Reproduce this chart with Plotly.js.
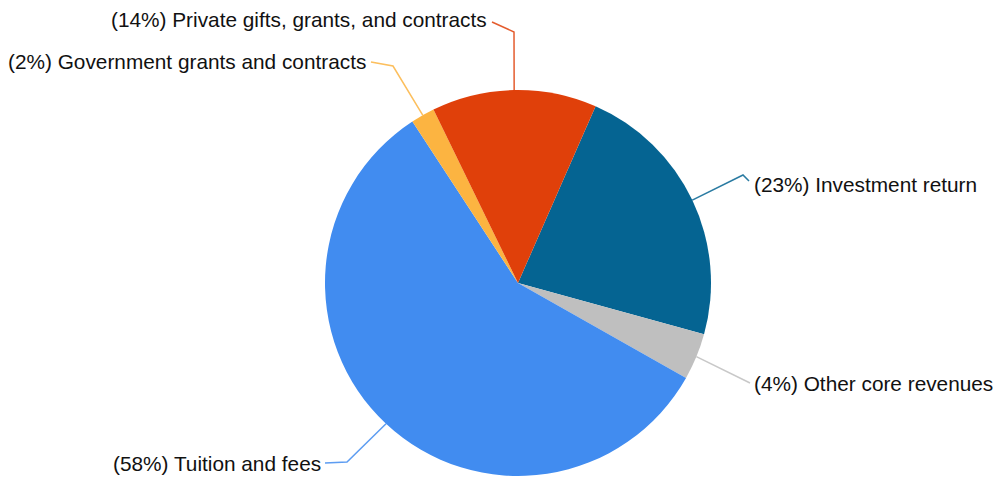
<!DOCTYPE html>
<html>
<head>
<meta charset="utf-8">
<script src="https://cdn.plot.ly/plotly-3.0.1.min.js"></script>
<style>
  html, body { margin: 0; padding: 0; background: #ffffff; }
  #chart { width: 995px; height: 480px; }
</style>
</head>
<body>
<div id="chart"></div>
<script>
// ---- data ----
const categories = ["Investment return", "Other core revenues", "Tuition and fees", "Government grants and contracts", "Private gifts, grants, and contracts"];
const values = [22.7, 3.9, 57.6, 2.0, 13.8];
const colors = ["#056492", "#BFBFBF", "#418CF0", "#FCB441", "#E0400A"];

// ---- layout constants (pixels) ----
const W = 995, H = 480;
const cx = 518, cy = 283, R = 193;
const rotationDeg = 23.7;
// label layout: elbow point, text anchor point, alignment
const labelLayout = [
  { elbow: [743, 175], end: [749, 181], text: [752, 184], align: "left" },
  { elbow: [748, 382], end: [750, 383], text: [752, 383], align: "left" },
  { elbow: [347, 462], end: [325, 463], text: [323, 463], align: "right" },
  { elbow: [393, 66],  end: [371, 62],  text: [368, 61],  align: "right" },
  { elbow: [514, 32],  end: [492, 22],  text: [489, 20],  align: "right" }
];

const px = x => x / W;
const py = y => 1 - y / H;

const total = values.reduce((a, b) => a + b, 0);
let start = rotationDeg;
const shapes = [];
const annotations = [];
values.forEach((v, i) => {
  const span = v / total * 360;
  const mid = (start + span / 2) * Math.PI / 180;
  start += span;
  const x0 = cx + R * Math.sin(mid);
  const y0 = cy - R * Math.cos(mid);
  const L = labelLayout[i];
  shapes.push({
    type: "path", xref: "paper", yref: "paper",
    path: `M ${px(x0)} ${py(y0)} L ${px(L.elbow[0])} ${py(L.elbow[1])} L ${px(L.end[0])} ${py(L.end[1])}`,
    line: { color: colors[i], width: 1.5 },
    opacity: 0.85
  });
  annotations.push({
    xref: "paper", yref: "paper",
    x: px(L.text[0]), y: py(L.text[1]),
    xanchor: L.align, yanchor: "middle",
    showarrow: false,
    text: "(" + Math.round(v / total * 100) + "%) " + categories[i],
    font: { family: "Liberation Sans, Arial, sans-serif", size: 20.8, color: "#111111" }
  });
});

const trace = {
  type: "pie",
  labels: categories,
  values: values,
  marker: { colors: colors, line: { width: 0 } },
  sort: false,
  direction: "clockwise",
  rotation: rotationDeg,
  textinfo: "none",
  hoverinfo: "label+percent",
  domain: { x: [px(cx - R), px(cx + R)], y: [py(cy + R), py(cy - R)] }
};

const layout = {
  width: W, height: H,
  margin: { l: 0, r: 0, t: 0, b: 0 },
  paper_bgcolor: "#ffffff",
  showlegend: false,
  shapes: shapes,
  annotations: annotations
};

Plotly.newPlot("chart", [trace], layout, { displayModeBar: false, staticPlot: true });
</script>
</body>
</html>
